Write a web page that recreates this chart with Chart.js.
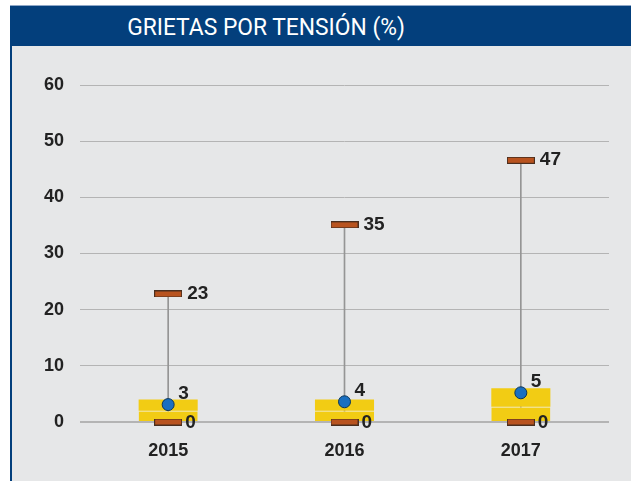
<!DOCTYPE html>
<html>
<head>
<meta charset="utf-8">
<script src="https://cdn.jsdelivr.net/npm/chart.js@4/dist/chart.umd.min.js"></script>
<style>
  html, body { margin: 0; padding: 0; background: #fff; }
  #frame { position: absolute; left: 10px; top: 5px; width: 621px; height: 476px; }
  #topline { height: 1px; background: #8fa8c8; }
  #titlebg { background: #033f7c; height: 40px; position: relative; }
  #title {
    position: absolute; left: 256px; top: 0; color: #fff;
    font-family: Roboto, "Liberation Sans", sans-serif; font-size: 24px;
    line-height: 42px; white-space: nowrap;
    transform: translateX(-50%) scaleX(0.95);
  }
  #plot { position: absolute; left: 0; top: 41px; width: 621px; height: 435px;
    border-left: 2px solid #033f7c; box-sizing: border-box; background: #e6e7e8; }
</style>
</head>
<body>
<div id="frame">
  <div id="topline"></div>
  <div id="titlebg"><div id="title">GRIETAS POR TENSIÓN (%)</div></div>
  <div id="plot"><canvas id="myChart" width="619" height="435"></canvas></div>
</div>
<script>
const years = ["2015", "2016", "2017"];
const maxValues = [22.8, 35.1, 46.6];
const minValues = [0, 0, 0];
const meanValues = [3.1, 3.6, 5.2];
const medianValues = [2, 2, 2.7];
const q3Values = [4, 4, 6];
const yTicks = [0, 10, 20, 30, 40, 50, 60];

const fontName = "'Liberation Sans', Arial, sans-serif";

// little brown bar used as marker for max / min
const marker = document.createElement("canvas");
marker.width = 28;
marker.height = 7;
const mctx = marker.getContext("2d");
mctx.fillStyle = "#4a2e1e";
mctx.fillRect(0, 0, 28, 7);
mctx.fillStyle = "#b8531f";
mctx.fillRect(1, 1, 26, 5);

const valueLabels = {
  id: "valueLabels",
  afterDatasetsDraw(chart) {
    const ctx = chart.ctx;
    ctx.save();
    ctx.font = "bold 19px " + fontName;
    ctx.fillStyle = "#222";
    ctx.textBaseline = "middle";
    ctx.textAlign = "left";
    chart.data.datasets.forEach((ds, i) => {
      if (!ds.labelOffset) return;
      const meta = chart.getDatasetMeta(i);
      meta.data.forEach((pt, j) => {
        ctx.fillText(Math.round(ds.data[j]), pt.x + ds.labelOffset[0], pt.y + ds.labelOffset[1]);
      });
    });
    ctx.restore();
  },
};

const myChart = document.querySelector("#myChart");

new Chart(myChart, {
  data: {
    labels: years,
    datasets: [
      {
        type: "bar",
        label: "rango",
        data: years.map((y, i) => [minValues[i], maxValues[i]]),
        backgroundColor: "#959595",
        barThickness: 1,
        grouped: false,
        order: 5,
      },
      {
        type: "bar",
        label: "q1-mediana",
        data: years.map((y, i) => [minValues[i], medianValues[i]]),
        backgroundColor: "#f2cc14",
        borderColor: "rgba(255, 232, 120, 0.7)",
        borderWidth: { top: 1, bottom: 0, left: 0, right: 0 },
        borderSkipped: false,
        barPercentage: 0.335,
        categoryPercentage: 1,
        grouped: false,
        order: 4,
      },
      {
        type: "bar",
        label: "mediana-q3",
        data: years.map((y, i) => [medianValues[i], q3Values[i]]),
        backgroundColor: "#f2cc14",
        barPercentage: 0.335,
        categoryPercentage: 1,
        grouped: false,
        order: 3,
      },
      {
        type: "line",
        label: "max",
        data: maxValues,
        showLine: false,
        pointStyle: marker,
        clip: false,
        labelOffset: [19, 0],
        order: 2,
      },
      {
        type: "line",
        label: "min",
        data: minValues,
        showLine: false,
        pointStyle: marker,
        clip: false,
        labelOffset: [17, 1],
        order: 1,
      },
      {
        type: "line",
        label: "media",
        data: meanValues,
        showLine: false,
        pointRadius: 6,
        backgroundColor: "#1a6fc0",
        borderColor: "#0c3558",
        borderWidth: 1,
        clip: false,
        labelOffset: [10, -11],
        order: 0,
      },
    ],
  },
  options: {
    responsive: false,
    animation: false,
    layout: { padding: { left: 0, right: 22, top: 39, bottom: 0 } },
    plugins: {
      legend: { display: false },
      tooltip: { enabled: false },
    },
    scales: {
      x: {
        grid: { display: false },
        border: { display: false },
        ticks: {
          color: "#222",
          padding: 10,
          font: { family: fontName, size: 18, weight: "bold" },
        },
        afterFit: (scale) => { scale.height = 59; },
      },
      y: {
        min: yTicks[0],
        max: yTicks[yTicks.length - 1],
        afterBuildTicks: (scale) => { scale.ticks = yTicks.map((v) => ({ value: v })); },
        grid: {
          color: "#b4b4b4",
          lineWidth: (c) => (c.tick && c.tick.value === 0 ? 2 : 1),
          drawTicks: false,
        },
        border: { display: false },
        ticks: {
          color: "#222",
          padding: 16,
          font: { family: fontName, size: 18, weight: "bold" },
        },
        afterFit: (scale) => { scale.width = 68; },
      },
    },
  },
  plugins: [valueLabels],
});
</script>
</body>
</html>
